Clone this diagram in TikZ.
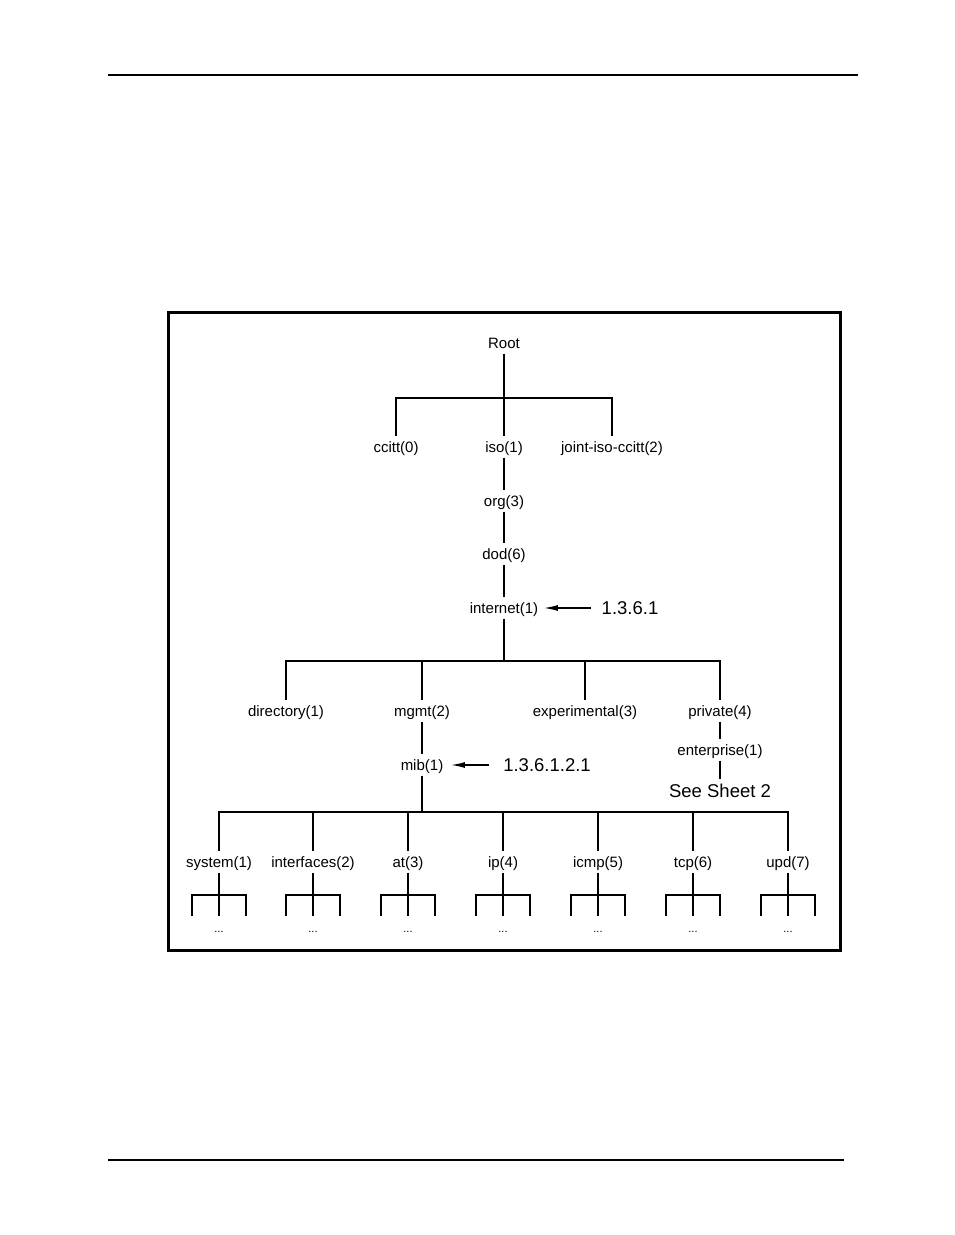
\documentclass[tikz,border=0pt]{standalone}
\usepackage{fontspec}
\setmainfont{Liberation Sans}
\usetikzlibrary{arrows.meta}

\begin{document}
\begin{tikzpicture}[x=1pt,y=-1pt,line width=1.4pt,every node/.style={inner sep=2pt,font=\fontsize{15}{17}\selectfont,text height=13pt,text depth=3pt},big/.style={font=\fontsize{18.5}{21}\selectfont,text height=16pt,text depth=3.5pt},dots/.style={font=\fontsize{11}{12}\selectfont,text height=5pt,text depth=0pt},pointer/.style={-{Latex[length=14pt,width=6pt]}}]
  \useasboundingbox (0,0) rectangle (954,1235);
  \draw[line width=1.2pt] (108,75) -- (858,75);
  \draw[line width=1.2pt] (108,1160) -- (844,1160);
  \draw[line width=3pt] (168,312) rectangle (840,950);
  \node (root) at (504,343) {Root};
  \node (ccitt) at (396,447) {ccitt(0)};
  \node (iso) at (504,447) {iso(1)};
  \node (jic) at (612,447) {joint-iso-ccitt(2)};
  \node (org) at (504,501) {org(3)};
  \node (dod) at (504,554) {dod(6)};
  \node (inet) at (504,608) {internet(1)};
  \node[big] (oid1) at (630,608) {1.3.6.1};
  \node (dir) at (286,711) {directory(1)};
  \node (mgmt) at (422,711) {mgmt(2)};
  \node (exp) at (585,711) {experimental(3)};
  \node (priv) at (720,711) {private(4)};
  \node (mib) at (422,765) {mib(1)};
  \node[big] (oid2) at (547,765) {1.3.6.1.2.1};
  \node (ent) at (720,750) {enterprise(1)};
  \node[big] (sheet) at (720,791) {See Sheet 2};
  \node (sys) at (219,862) {system(1)};
  \node (ifs) at (313,862) {interfaces(2)};
  \node (at) at (408,862) {at(3)};
  \node (ip) at (503,862) {ip(4)};
  \node (icmp) at (598,862) {icmp(5)};
  \node (tcp) at (693,862) {tcp(6)};
  \node (upd) at (788,862) {upd(7)};
  \coordinate (b1) at (504,398);
  \coordinate (b2) at (504,661);
  \coordinate (b3) at (422,812);
  \foreach \from/\to in {root/iso,iso/org,org/dod,dod/inet,inet/b2,mgmt/mib,mib/b3,priv/ent,ent/sheet}
    \draw (\from) -- (\to);
  \foreach \to in {ccitt,jic}
    \draw (b1) -| (\to);
  \foreach \to in {dir,mgmt,exp,priv}
    \draw (b2) -| (\to);
  \foreach \to in {sys,ifs,at,ip,icmp,tcp,upd}
    \draw (b3) -| (\to);
  \draw[pointer,shorten >=3pt,shorten <=8pt] (oid1) -- (inet);
  \draw[pointer,shorten >=5pt,shorten <=12pt] (oid2) -- (mib);
  \foreach \n in {sys,ifs,at,ip,icmp,tcp,upd} {
    \coordinate (\n-b) at (\n |- 0,895);
    \draw (\n) -- (\n-b) -- ++(0,21);
    \draw (\n-b) ++(-27,21) |- ++(54,-21) -- ++(0,21);
    \node[dots] (\n-d) at (\n |- 0,930) {...};
  }
\end{tikzpicture}
\end{document}
